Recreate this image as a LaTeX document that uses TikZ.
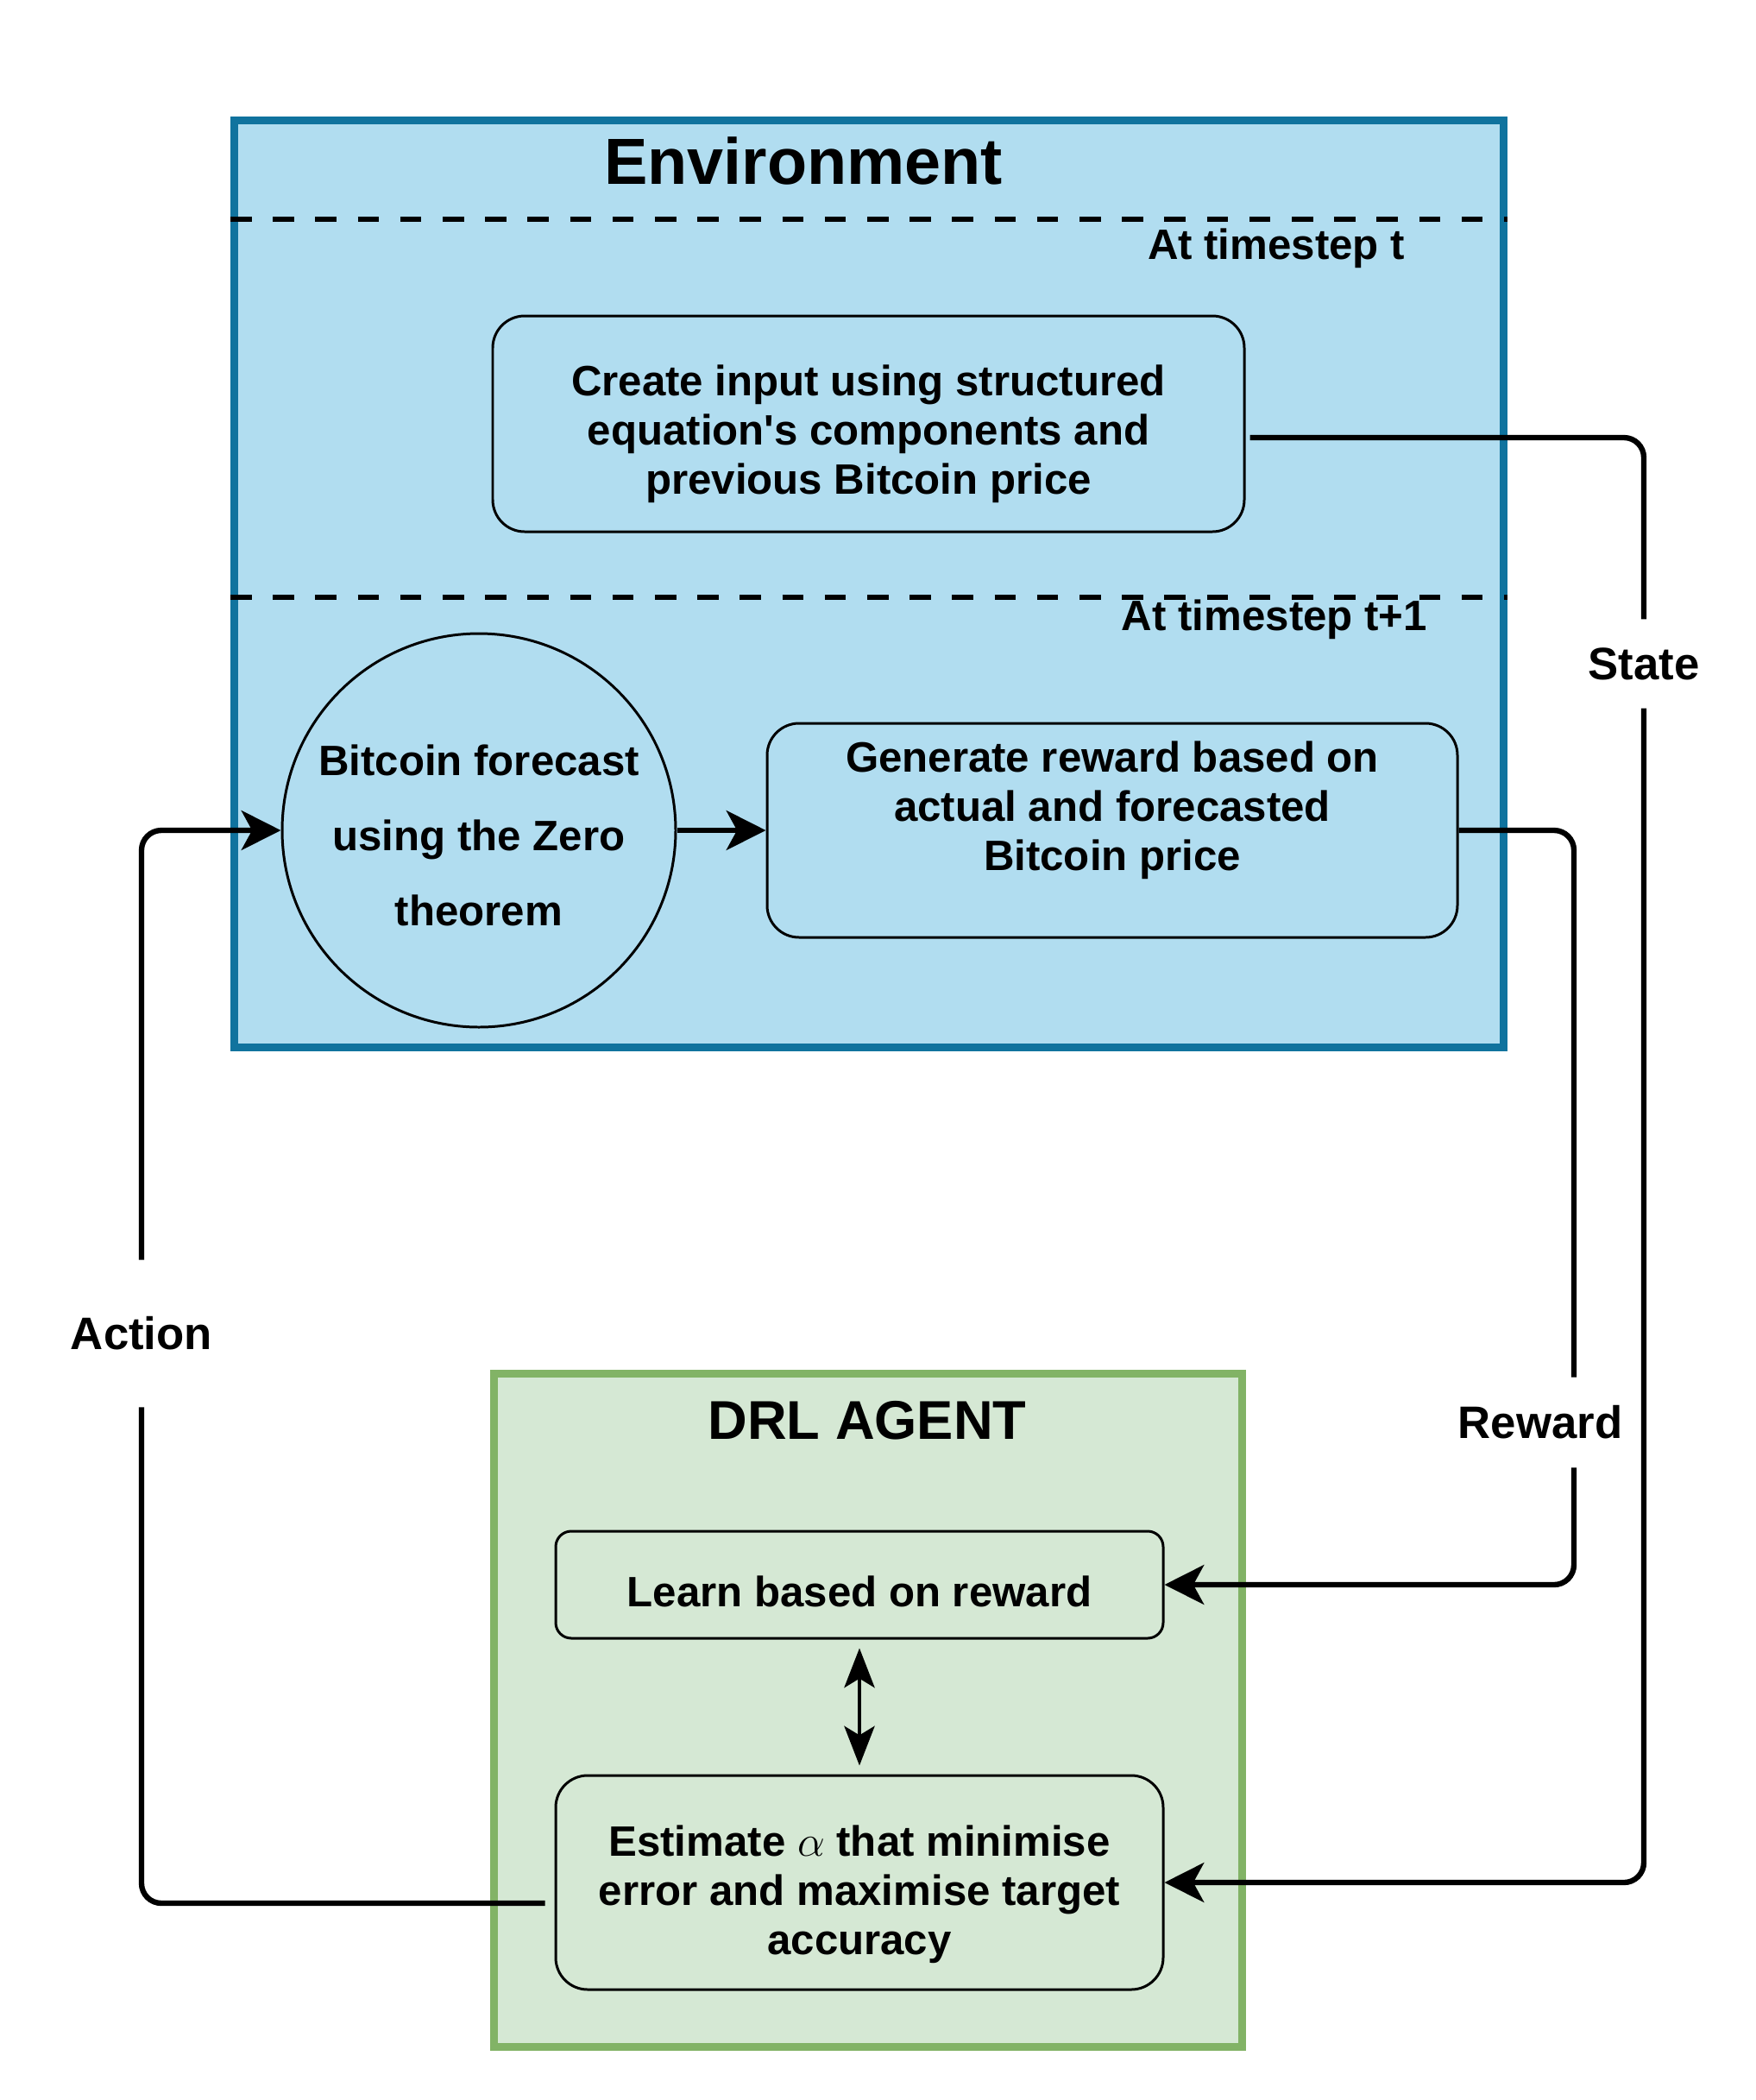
\documentclass[tikz,border=0pt]{standalone}
\usepackage{fontspec}
\setmainfont{Liberation Sans}
\usetikzlibrary{arrows.meta}
\definecolor{envfill}{HTML}{B1DDF0}
\definecolor{envline}{HTML}{10739E}
\definecolor{agentfill}{HTML}{D5E8D4}
\definecolor{agentline}{HTML}{82B366}

\begin{document}
\begin{tikzpicture}[
    txt/.style={align=center, font=\bfseries\fontsize{14}{16.2}\selectfont},
    frame/.style={rectangle, line width=2.6pt, inner sep=0pt},
    envframe/.style={frame, draw=envline, fill=envfill},
    agentframe/.style={frame, draw=agentline, fill=agentfill},
    stepbox/.style={txt, draw, rectangle, line width=0.85pt, rounded corners=0.37cm, inner sep=0pt},
    zerocircle/.style={txt, draw, circle, line width=0.85pt, inner sep=0pt},
    divider/.style={line width=1.5pt, dash pattern=on 7pt off 7pt},
    conn/.style={line width=1.8pt, rounded corners=0.23cm,
      -{Stealth[length=13pt, width=13pt, inset=3.5pt]}},
    lbl/.style={fill=white, inner xsep=1pt, inner ysep=0.33cm,
      font=\bfseries\fontsize{15}{18}\selectfont}
  ]
  \useasboundingbox (0,0) rectangle (20.35,-24.33);

  % Environment
  \node[envframe, minimum width=14.71cm, minimum height=10.74cm] (env) at (10.07,-6.765) {};
  \node[font=\bfseries\fontsize{21.5}{26}\selectfont] (envtitle) at (9.31,-1.86) {Environment};
  \draw[divider] (env.west |- 0,-2.54) -- (env.east |- 0,-2.54);
  \draw[divider] (env.west |- 0,-6.92) -- (env.east |- 0,-6.92);
  \node[txt] (stept) at (14.79,-2.88) {At timestep t};
  \node[txt] (steptnext) at (14.77,-7.18) {At timestep t+1};

  \node[stepbox, minimum width=8.71cm, minimum height=2.5cm,
    label={[txt, yshift=-1.2mm]center:Create input using structured\\equation\textquotesingle s components and\\previous Bitcoin price}]
    (input) at (10.065,-4.91) {};
  \node[zerocircle, minimum size=4.56cm,
    label={[txt, yshift=-0.6mm, font=\bfseries\fontsize{14}{24.7}\selectfont]center:Bitcoin forecast\\using the Zero\\theorem}]
    (zero) at (5.55,-9.62) {};
  \node[stepbox, minimum width=8.0cm, minimum height=2.48cm] (reward) at (12.89,-9.62)
    {Generate reward based on\\actual and forecasted\\Bitcoin price\\\mbox{}};

  % DRL agent
  \node[agentframe, minimum width=8.67cm, minimum height=7.80cm] (agent) at (10.06,-19.815) {};
  \node[font=\bfseries\fontsize{18}{22}\selectfont] (agenttitle) at (10.05,-16.46) {DRL AGENT};
  \node[stepbox, rounded corners=0.18cm, minimum width=7.04cm, minimum height=1.24cm,
    label={[txt, yshift=-0.8mm]center:Learn based on reward}]
    (learn) at (9.96,-18.36) {};
  \node[stepbox, minimum width=7.04cm, minimum height=2.48cm,
    label={[txt, yshift=-1.4mm]center:Estimate $\alpha$ that minimise\\error and maximise target\\accuracy}]
    (estimate) at (9.96,-21.81) {};

  \draw[line width=1.3pt, {Stealth[length=13pt, width=10pt, inset=3pt]}-{Stealth[length=13pt, width=10pt, inset=3pt]}]
    ([yshift=-0.1cm]learn.south) -- ([yshift=0.1cm]estimate.north);

  % Loop connectors
  \draw[conn] (zero) -- (reward);
  \draw[conn] ([xshift=-0.11cm,yshift=-0.24cm]estimate.west) -| (1.64,-15.45)
    node[lbl, inner ysep=0.66cm] {Action} |- (zero.west);
  \draw[conn] ([xshift=0.05cm,yshift=-0.16cm]input.east) -| (19.05,-7.69)
    node[lbl] {State} |- (estimate.east);
  \draw[conn] (reward.east) -| (18.24,-16.48)
    node[lbl, xshift=-0.39cm] {Reward} |- (learn.east);

\end{tikzpicture}
\end{document}
